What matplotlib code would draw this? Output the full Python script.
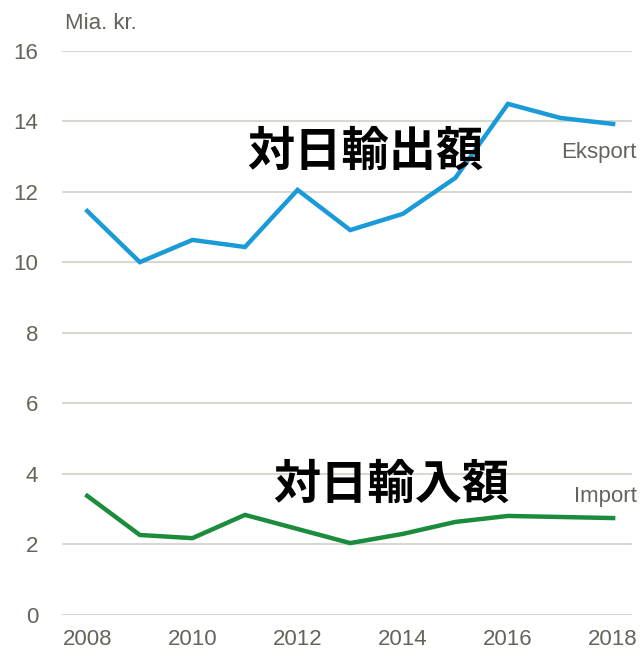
import matplotlib
matplotlib.use("Agg")
import matplotlib.pyplot as plt

years = [2008, 2009, 2010, 2011, 2012, 2013, 2014, 2015, 2016, 2017, 2018]
eksport = [11.46, 10.01, 10.64, 10.44, 12.06, 10.92, 11.38, 12.40, 14.50, 14.10, 13.93]
importv = [3.38, 2.27, 2.18, 2.84, 2.44, 2.04, 2.30, 2.64, 2.81, 2.78, 2.75]
yticks = [0, 2, 4, 6, 8, 10, 12, 14, 16]
xticks = [2008, 2010, 2012, 2014, 2016, 2018]

txt_col = '#64645a'
grid_col = '#d8d8d0'
narrow = ['Liberation Sans Narrow', 'Liberation Sans', 'DejaVu Sans']
cjk = ['Noto Sans CJK JP', 'DejaVu Sans']

fig = plt.figure(figsize=(6.43, 6.64), dpi=100)
ax = fig.add_axes([0.0964, 0.0738, 0.8866, 0.8494])

# 网格线
for y in yticks:
    ax.axhline(y, color=grid_col, linewidth=1.5, zorder=1)

ax.plot(years, eksport, color='#1b9ad8', linewidth=3.2, solid_joinstyle='miter', zorder=3)
ax.plot(years, importv, color='#1a8c3c', linewidth=3.2, solid_joinstyle='miter', zorder=3)

ax.set_xlim(2007.52, 2018.36)
ax.set_ylim(0, 16)
ax.set_yticks(yticks)
ax.set_xticks(xticks)
ax.set_yticklabels([str(v) for v in yticks], family=narrow, fontsize=16, color=txt_col)
ax.set_xticklabels([str(v) for v in xticks], family=narrow, fontsize=16, color=txt_col)
ax.tick_params(length=0, pad=10)
ax.tick_params(axis='y', pad=27)
for lbl in ax.get_yticklabels():
    lbl.set_horizontalalignment('right')
ax.tick_params(axis='y', pad=17)
for s in ax.spines.values():
    s.set_visible(False)

fig.text(0.101, 0.965, 'Mia. kr.', family=narrow, fontsize=16, color=txt_col, va='center')
fig.text(0.99, 0.771, 'Eksport', family=narrow, fontsize=16, color=txt_col, ha='right', va='center')
fig.text(0.99, 0.252, 'Import', family=narrow, fontsize=16, color=txt_col, ha='right', va='center')

fig.text(0.568, 0.771, '対日輸出額', family=cjk, fontsize=34, fontweight='bold', color='black', ha='center', va='center')
fig.text(0.609, 0.27, '対日輸入額', family=cjk, fontsize=34, fontweight='bold', color='black', ha='center', va='center')

fig.savefig('out.png', dpi=100)
